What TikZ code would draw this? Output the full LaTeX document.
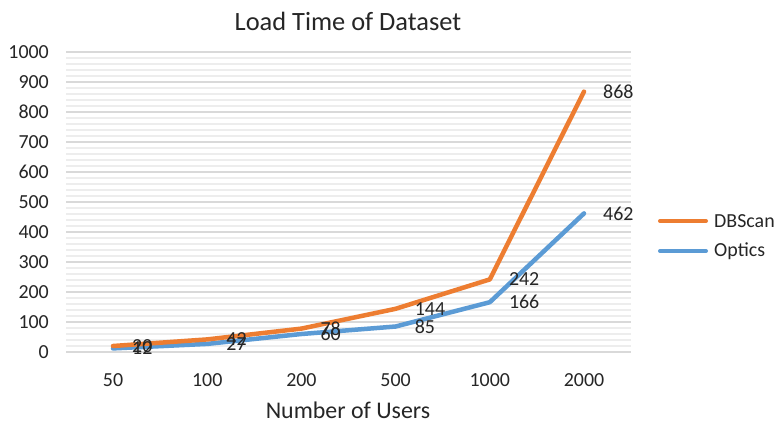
\documentclass[tikz,border=0pt]{standalone}
\usepackage{fontspec}
\setmainfont{Carlito}
\definecolor{dbs}{HTML}{ED7D31}
\definecolor{opt}{HTML}{5B9BD5}
\definecolor{gmaj}{HTML}{D9D9D9}
\definecolor{gmin}{HTML}{EDEDED}
\definecolor{txt}{HTML}{262626}
\begin{document}
\begin{tikzpicture}[x=1bp,y=-1bp,
  lbl/.style={inner sep=0pt,text=txt,font=\fontsize{20}{24}\selectfont},
  series/.style={line width=4.5bp,line join=round,line cap=round},
  legline/.style={line width=4bp,line cap=round}]
\useasboundingbox[fill=white] (0,0) rectangle (779,424);
% minor gridlines
\foreach \v in {0,20,...,1000}{
  \draw[gmin,line width=1.2bp] (66,{352-0.3*\v}) -- (631,{352-0.3*\v});
}
% major gridlines and y labels
\foreach \v in {0,100,...,1000}{
  \draw[gmaj,line width=1.4bp] (66,{352-0.3*\v}) -- (631,{352-0.3*\v});
  \node[lbl,anchor=east] (y\v) at (49,{352-0.3*\v}) {\v};
}
% x categories
\foreach \c [count=\i from 0] in {50,100,200,500,1000,2000}{
  \node[lbl] (x\i) at ({113+94.2*\i},380) {\c};
}
% data coordinates
\foreach \d [count=\i from 0] in {20,42,78,144,242,868}{
  \coordinate (d\i) at ({113+94.2*\i},{352-0.3*\d});
}
\foreach \o [count=\i from 0] in {12,27,60,85,166,462}{
  \coordinate (o\i) at ({113+94.2*\i},{352-0.3*\o});
}
\draw[series,opt] (o0) -- (o1) -- (o2) -- (o3) -- (o4) -- (o5);
\draw[series,dbs] (d0) -- (d1) -- (d2) -- (d3) -- (d4) -- (d5);
% data labels
\foreach \d [count=\i from 0] in {20,42,78,144,242,868}{
  \node[lbl,anchor=west] (ld\i) at ([xshift=19bp]d\i) {\d};
}
\foreach \o [count=\i from 0] in {12,27,60,85,166,462}{
  \node[lbl,anchor=west] (lo\i) at ([xshift=19bp]o\i) {\o};
}
% title and axis title
\node[lbl,font=\fontsize{26.5}{30}\selectfont] (title) at (348,21) {Load Time of Dataset};
\node[lbl,font=\fontsize{24}{28}\selectfont] (xtitle) at (348,410) {Number of Users};
% legend
\coordinate (la1) at (660,221); \coordinate (lb1) at (706,221);
\coordinate (la2) at (660,251); \coordinate (lb2) at (706,251);
\draw[legline,dbs] (la1) -- (lb1);
\draw[legline,opt] (la2) -- (lb2);
\node[lbl,anchor=west] (leg1) at (714,221) {DBScan};
\node[lbl,anchor=west] (leg2) at (714,251) {Optics};
\end{tikzpicture}
\end{document}
